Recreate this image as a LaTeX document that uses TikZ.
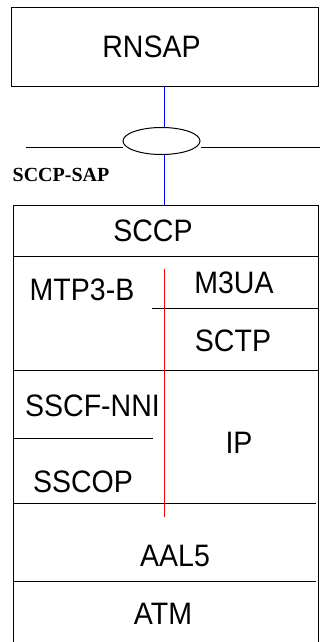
\documentclass[tikz,border=0pt]{standalone}
\usepackage{fontspec}
\setmainfont{Liberation Sans}
\newfontfamily\serifbf{Liberation Serif}
\usetikzlibrary{shapes.geometric}
\newcommand{\lyr}[1]{\scalebox{0.92}[1]{#1}}
\tikzset{
  lbl/.style={anchor=base, inner sep=0pt, font=\fontsize{31}{31}\selectfont},
  edge/.style={line width=1pt, draw=black},
  blueline/.style={line width=0.9pt, draw=blue},
  redline/.style={line width=0.9pt, draw=red},
}
\begin{document}
\begin{tikzpicture}[x=1pt,y=-1pt]
\useasboundingbox (0,0) rectangle (320,642);
% RNSAP box
\node[edge, draw, minimum width=307pt, minimum height=78pt, inner sep=0pt] (rnsap) at (164.5,47) {};
\node[lbl] (rnsapt) at (151.5,57) {\lyr{RNSAP}};
% SAP ellipse
\node[ellipse, edge, draw, minimum width=77pt, minimum height=27pt, inner sep=0pt] (sap) at (161.5,141) {};
\coordinate (hl) at (26,147);
\coordinate (hr) at (320,147);
\draw[edge] (hl) -- (hl -| sap.west);
\draw[edge] (hr -| sap.east) -- (hr);
\node[anchor=base, inner sep=0pt, font=\serifbf\bfseries\fontsize{20}{20}\selectfont] (saplbl) at (61,181) {SCCP-SAP};
% stack box outline
\coordinate (tl) at (13,205);
\coordinate (tr) at (318.5,205);
\coordinate (bl) at (13,643);
\coordinate (br) at (318.5,643);
\draw[blueline] (rnsap.south) -- (rnsap.south |- sap.north);
\draw[blueline] (rnsap.south |- sap.south) -- (rnsap.south |- tl);
\draw[edge] (bl) -- (tl) -- (tr) -- (br);
% dividers
\draw[edge] (13,256) -- (318.5,256);
\draw[edge] (152,308) -- (318.5,308);
\draw[edge] (13,370) -- (318.5,370);
\draw[edge] (13,438) -- (153,438);
\draw[edge] (13,503) -- (316,503);
\draw[edge] (13,581) -- (316,581);
% red line
\draw[redline] (164,269) -- (164,517);
% labels
\node[lbl] (sccp) at (153,241.7) {\lyr{SCCP}};
\node[lbl] (mtp) at (82,300) {\lyr{MTP3-B}};
\node[lbl] (m3ua) at (234,293) {\lyr{M3UA}};
\node[lbl] (sctp) at (233,351.7) {\lyr{SCTP}};
\node[lbl] (sscf) at (92.5,416.7) {\lyr{SSCF-NNI}};
\node[lbl] (ip) at (239,453) {\lyr{IP}};
\node[lbl] (sscop) at (83,492) {\lyr{SSCOP}};
\node[lbl] (aal) at (175,566.7) {\lyr{AAL5}};
\node[lbl] (atm) at (163,624) {\lyr{ATM}};
\end{tikzpicture}
\end{document}
